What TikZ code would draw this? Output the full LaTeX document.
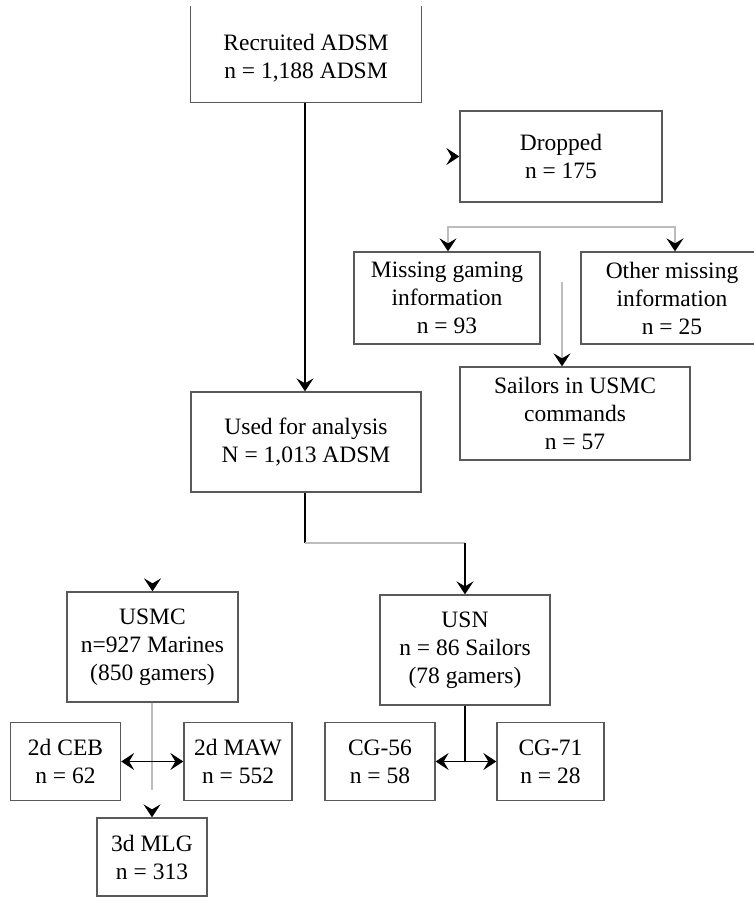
\documentclass[tikz,border=0pt]{standalone}
\usepackage{fontspec}
\setmainfont{Liberation Serif}
\usetikzlibrary{arrows.meta}
\definecolor{boxcol}{HTML}{595959}
\definecolor{lightline}{HTML}{BDBDBD}
\tikzset{
  box/.style={draw=boxcol, line width=1.3pt, inner sep=0pt, align=center,
    font=\fontsize{23.5}{28}\selectfont},
  >={Stealth[length=13pt,width=17pt,inset=5pt,color=black]},
  headend/.style={->},
  headboth/.style={<->},
  darkline/.style={draw=black, line width=1.3pt},
  paleline/.style={draw=lightline, line width=1.6pt},
}
\begin{document}
\begin{tikzpicture}[x=1pt,y=-1pt]
\useasboundingbox (0,0) rectangle (754,897);
\fill[white] (0,0) rectangle (754,897);
\clip (0,0) rectangle (754,897);
% nodes
\node[box, draw=none, minimum width=230pt, minimum height=88pt] (rec) at (306,58) {Recruited ADSM\\n = 1,188 ADSM};
\draw[draw=boxcol, line width=1.3pt] ([yshift=7pt]rec.north west) -- (rec.south west) -- (rec.south east) -- ([yshift=7pt]rec.north east);
\node[box, minimum width=202pt, minimum height=91pt] (drop) at (561,156.5) {Dropped\\n = 175};
\node[box, minimum width=186pt, minimum height=92pt] (miss) at (447,298) {Missing gaming\\information\\n = 93};
\node[box, minimum width=182pt, minimum height=92pt] (other) at (672,298) {Other missing\\information\\n = 25};
\node[box, minimum width=230pt, minimum height=93pt] (sail) at (575,413.5) {Sailors in USMC\\commands\\n = 57};
\node[box, minimum width=230pt, minimum height=100pt] (used) at (306,442) {Used for analysis\\N = 1,013 ADSM};
\node[box, minimum width=171pt, minimum height=110pt] (usmc) at (152.5,647) {USMC\\n=927 Marines\\(850 gamers)};
\node[box, minimum width=170pt, minimum height=110pt] (usn) at (465,650) {USN\\n = 86 Sailors\\(78 gamers)};
\node[box, minimum width=110pt, minimum height=78pt] (ceb) at (65.5,761.5) {2d CEB\\n = 62};
\node[box, minimum width=108pt, minimum height=78pt] (maw) at (238,761.5) {2d MAW\\n = 552};
\node[box, minimum width=110pt, minimum height=78pt] (mlg) at (152,857) {3d MLG\\n = 313};
\node[box, minimum width=110pt, minimum height=78pt] (cg56) at (380,761.5) {CG-56\\n = 58};
\node[box, minimum width=107pt, minimum height=78pt] (cg71) at (550.5,761.5) {CG-71\\n = 28};
% coordinates
\coordinate (sl) at (448,227);
\coordinate (sr) at (675,227);
\coordinate (sailtop) at (562,282);
\coordinate (ua) at (305,543);
\coordinate (ub) at (465,543);
\coordinate (usmcend) at (152,790);
\coordinate (usnmid) at (465,762);
% connectors
\draw[darkline, headend] (rec.south -| 305,0) -- (used.north -| 305,0);
\draw[darkline, headend] ([xshift=-8pt]drop.west) -- (drop.west);
\draw[paleline, headboth] (sl |- miss.north) -- (sl) -- (sr) -- (sr |- other.north);
\draw[paleline, headend] (sailtop) -- (sailtop |- sail.north);
\draw[darkline] (used.south -| ua) -- (ua);
\draw[paleline] (ua) -- (ub);
\draw[darkline, headend] (ub) -- (ub |- usn.north);
\draw[darkline, headend] ([yshift=8pt]usmc.north) -- (usmc.north);
\draw[paleline] (usmc.south -| usmcend) -- (usmcend);
\draw[darkline, headboth] (ceb.east) -- (maw.west);
\draw[darkline, headend] ([yshift=8pt]mlg.north) -- (mlg.north);
\draw[darkline] (usn.south) -- (usnmid);
\draw[darkline, headboth] (cg56.east) -- (cg71.west);
\end{tikzpicture}
\end{document}
